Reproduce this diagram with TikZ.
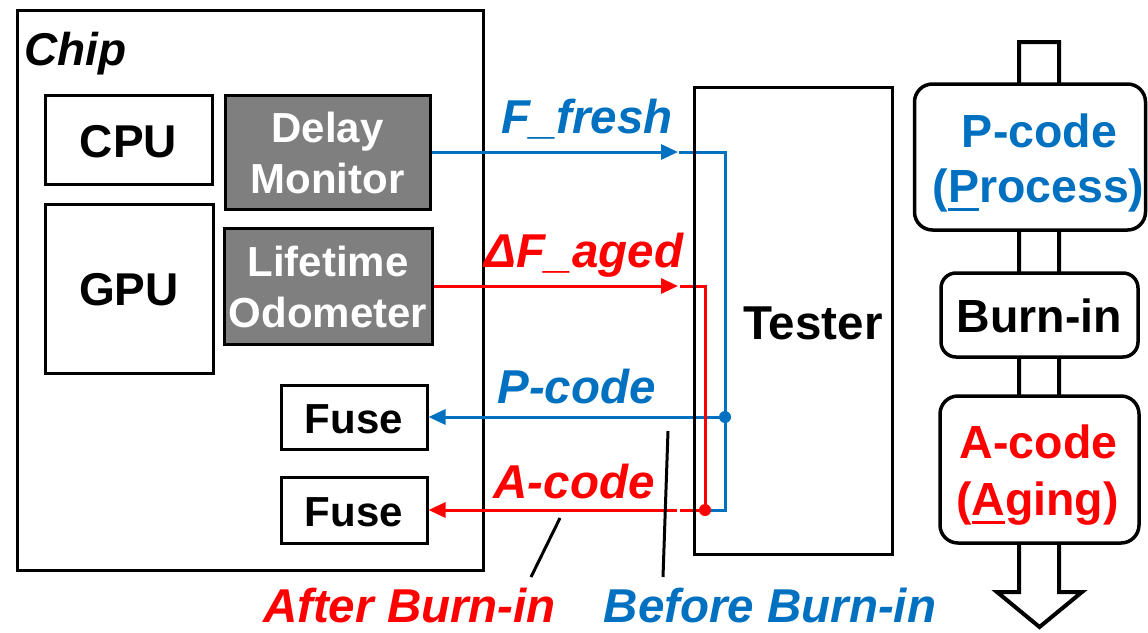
\documentclass[tikz,border=0pt]{standalone}
\usepackage{fontspec}
\setmainfont{Liberation Sans}
\usetikzlibrary{arrows.meta}
\definecolor{myblue}{HTML}{0070C0}
\definecolor{myred}{HTML}{FF0000}
\definecolor{mygray}{HTML}{7F7F7F}
\newcommand\myul[1]{\setbox0\hbox{#1}\rlap{\rule[-8.5pt]{\wd0}{3pt}}\box0}
\begin{document}
\begin{tikzpicture}[x=1pt,y=-1pt,
  box/.style={draw, line width=3pt, inner sep=0pt, fill=white},
  gbox/.style={box, fill=mygray},
  tbox/.style={draw, line width=3pt, inner sep=0pt},
  rbox/.style={draw, fill=white, line width=3.5pt, inner sep=0pt, rounded corners=18pt},
  txt/.style={anchor=base, inner sep=0pt, font=\fontsize{42}{50}\selectfont\bfseries},
  big/.style={anchor=base, inner sep=0pt, font=\fontsize{46}{50}\selectfont\bfseries},
  rtxt/.style={anchor=base, inner sep=0pt, font=\fontsize{46.5}{50}\selectfont\bfseries},
  lab/.style={anchor=base, inner sep=0pt, font=\fontsize{47.5}{50}\selectfont\bfseries\itshape},
  wire/.style={line width=3pt},
  tip/.style={-{Triangle[length=17pt,width=15pt]}},
  dot/.style={circle, fill, inner sep=0pt, minimum size=12pt}
]
\useasboundingbox (0,0) rectangle (1148,632);

% ---------- chip ----------
\node[box, minimum width=466pt, minimum height=560pt] (chip) at (250,290) {};
\node[big, anchor=base west, font=\fontsize{46}{50}\selectfont\bfseries\itshape] (chiplbl) at (24,65) {Chip};

\node[box, minimum width=167pt, minimum height=89pt] (cpu) at (128.5,139.5) {};
\node[big] (cputxt) at (128.5,157) {CPU};
\node[box, minimum width=168pt, minimum height=169pt] (gpu) at (129,288.5) {};
\node[big] (gputxt) at (129,305.5) {GPU};

\node[gbox, minimum width=205pt, minimum height=114pt] (dm) at (327.5,152) {};
\node[txt, white] (dm1) at (327.5,142) {Delay};
\node[txt, white] (dm2) at (327.5,193) {Monitor};

\node[gbox, minimum width=208pt, minimum height=116pt] (lo) at (328,286) {};
\node[txt, white] (lo1) at (328,276) {Lifetime};
\node[txt, white] (lo2) at (328,327) {Odometer};

\node[box, minimum width=146pt, minimum height=64pt] (fuse1) at (354,417) {};
\node[txt] (f1t) at (354,433) {Fuse};
\node[box, minimum width=146pt, minimum height=66pt] (fuse2) at (354,510) {};
\node[txt] (f2t) at (354,526) {Fuse};

% ---------- wires ----------
\coordinate (fA) at (678,152);
\coordinate (fB) at (679,152);
\coordinate (fC) at (725,152);
\coordinate (fD) at (725,510);
\coordinate (fE) at (706,510);
\coordinate (pJ) at (725,417);
\draw[wire, myblue, tip] (dm.east) -- (fA);
\draw[wire, myblue] (fB) -- (fC) -- (fD) -- (fE);
\draw[wire, myblue, tip] (pJ) -- (fuse1.east);
\node[dot, myblue] (pdot) at (pJ) {};

\coordinate (aA) at (678,286);
\coordinate (aB) at (680,286);
\coordinate (aC) at (705,286);
\coordinate (aD) at (705,510);
\coordinate (aE) at (680,510);
\coordinate (aF) at (677,510);
\draw[wire, myred, tip] (lo.east) -- (aA);
\draw[wire, myred] (aB) -- (aC) -- (aD) -- (aE);
\draw[wire, myred, tip] (aF) -- (fuse2.east);
\node[dot, myred] (adot) at (aD) {};

% ---------- tester ----------
\node[tbox, minimum width=198pt, minimum height=467pt] (tester) at (793,320.5) {};
\node[anchor=base, inner sep=0pt, font=\fontsize{47.5}{50}\selectfont\bfseries] (testtxt) at (813,339) {Tester};

% ---------- labels ----------
\node[lab, myblue] (lff) at (587,133) {F\_fresh};
\node[lab, myred] (lfa) at (584,267) {ΔF\_aged};
\node[lab, myblue] (lpc) at (576.5,403) {P-code};
\node[lab, myred] (lac) at (574,498) {A-code};
\node[lab, myred] (laft) at (409.5,622) {After Burn-in};
\node[lab, myblue] (lbef) at (770,622) {Before Burn-in};

\coordinate (l1a) at (560,518);
\coordinate (l1b) at (531,577);
\coordinate (l2a) at (668,431);
\coordinate (l2b) at (663,577);
\draw[wire] (l1a) -- (l1b);
\draw[wire] (l2a) -- (l2b);

% ---------- flow on the right ----------
\draw[line width=4pt, fill=white] (1019,42) -- (1059,42) -- (1059,592) -- (1082,592) -- (1039.5,627) -- (997,592) -- (1019,592) -- cycle;

\node[rbox, minimum width=231pt, minimum height=146pt] (pbox) at (1030,157) {};
\node[rtxt, myblue] (pb1) at (1039.5,147) {P-code};
\node[rtxt, myblue] (pb2) at (1038.5,202) {(\myul{P}rocess)};

\node[rbox, rounded corners=15pt, minimum width=197pt, minimum height=84pt] (bbox) at (1039.5,315) {};
\node[rtxt] (bb1) at (1039.5,332) {Burn-in};

\node[rbox, minimum width=199pt, minimum height=147pt] (abox) at (1039.5,469.5) {};
\node[rtxt, myred] (ab1) at (1038.5,458) {A-code};
\node[rtxt, myred] (ab2) at (1037.5,515) {(\myul{A}ging)};
\end{tikzpicture}
\end{document}
